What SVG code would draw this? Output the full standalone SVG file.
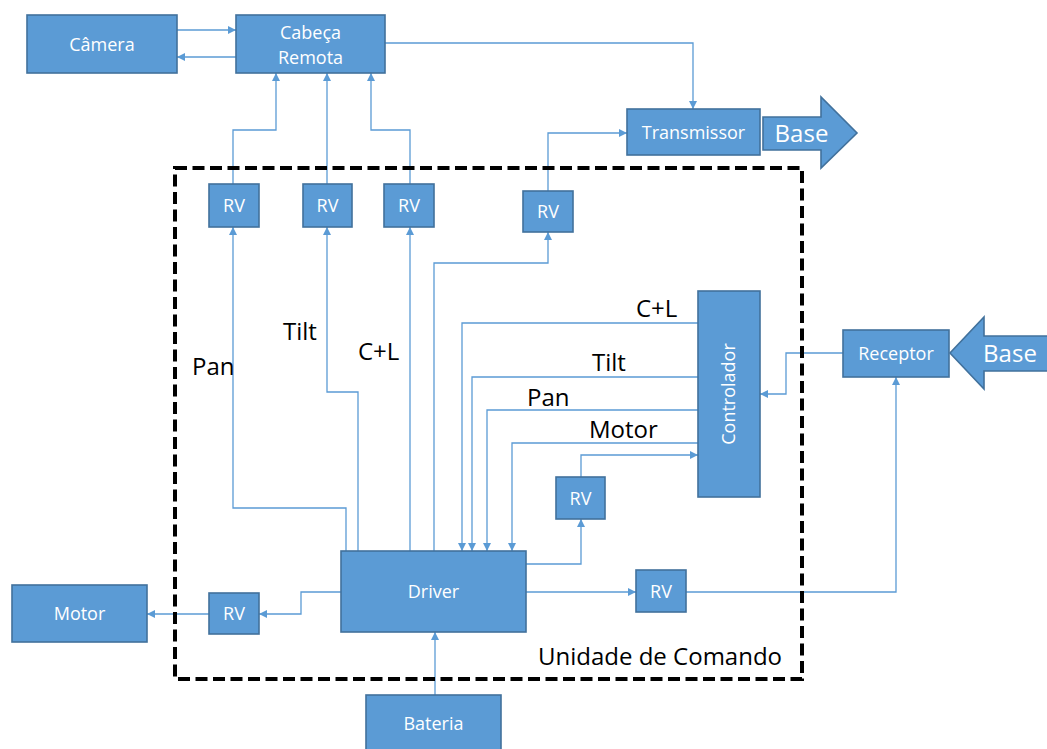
<svg xmlns="http://www.w3.org/2000/svg" width="1047" height="749" viewBox="0 0 1047 749">
  <defs>
    <marker id="arrow" markerUnits="userSpaceOnUse" markerWidth="9" markerHeight="9" refX="8" refY="4" orient="auto">
      <path d="M0,0 L8,4 L0,8 z" fill="#5B9BD5"/>
    </marker>
    <style>
      .box { fill: #5B9BD5; stroke: #41719C; stroke-width: 1.6; }
      .lbl { font-family: "Open Sans", "Liberation Sans", sans-serif; font-size: 18px; fill: #FFFFFF; text-anchor: middle; }
      .big { font-family: "Open Sans", "Liberation Sans", sans-serif; font-size: 24px; fill: #FFFFFF; text-anchor: middle; }
      .tag { font-family: "Open Sans", "Liberation Sans", sans-serif; font-size: 24px; fill: #000000; }
      .wire { fill: none; stroke: #5B9BD5; stroke-width: 1.3; marker-end: url(#arrow); }
      .frame { fill: none; stroke: #000000; stroke-width: 4; stroke-dasharray: 12 5.5; }
    </style>
  </defs>
  <rect width="1047" height="749" fill="#FFFFFF"/>

  <!-- signal and power wiring -->
  <g id="connectors">
    <path class="wire" d="M177,30 H236"/>
    <path class="wire" d="M236,57 H177"/>
    <path class="wire" d="M385,43 H693 V109"/>
    <path class="wire" d="M233,184 V130 H276 V73"/>
    <path class="wire" d="M327,184 V73"/>
    <path class="wire" d="M410,184 V130 H371 V73"/>
    <path class="wire" d="M548,191 V133 H627"/>
    <path class="wire" d="M434,551 V263 H548 V232"/>
    <path class="wire" d="M346,551 V508 H233 V227"/>
    <path class="wire" d="M358,551 V392 H327 V227"/>
    <path class="wire" d="M410,551 V227"/>
    <path class="wire" d="M698,323 H462 V551"/>
    <path class="wire" d="M698,377 H472 V551"/>
    <path class="wire" d="M698,410 H487 V551"/>
    <path class="wire" d="M698,443 H512 V551"/>
    <path class="wire" d="M526,564 H581 V519"/>
    <path class="wire" d="M581,477 V455 H698"/>
    <path class="wire" d="M526,592 H636"/>
    <path class="wire" d="M686,592 H896 V377"/>
    <path class="wire" d="M843,353 H786 V394 H760"/>
    <path class="wire" d="M341,592 H301 V614 H259"/>
    <path class="wire" d="M209,614 H147"/>
    <path class="wire" d="M435,695 V632"/>
  </g>

  <!-- command unit boundary -->
  <g id="unidade">
    <rect class="frame" x="175" y="168" width="627" height="511"/>
    <text class="tag" x="538" y="665">Unidade de Comando</text>
  </g>

  <!-- signal labels -->
  <g id="signal-labels">
    <text class="tag" x="192" y="375">Pan</text>
    <text class="tag" x="283" y="340">Tilt</text>
    <text class="tag" x="358" y="360">C+L</text>
    <text class="tag" x="636" y="317">C+L</text>
    <text class="tag" x="592" y="371">Tilt</text>
    <text class="tag" x="527" y="406">Pan</text>
    <text class="tag" x="589" y="438">Motor</text>
  </g>

  <g id="camera">
    <rect class="box" x="27" y="15" width="150" height="58"/>
    <text class="lbl" x="102" y="50.5">Câmera</text>
  </g>
  <g id="cabeca-remota">
    <rect class="box" x="236" y="15" width="149" height="58"/>
    <text class="lbl" x="310.5" y="38.5">Cabeça</text>
    <text class="lbl" x="310.5" y="64">Remota</text>
  </g>
  <g id="transmissor">
    <rect class="box" x="627" y="109" width="133" height="46"/>
    <text class="lbl" x="693.5" y="138.5">Transmissor</text>
  </g>
  <g id="base-saida">
    <path class="box" d="M763,117 H821 V97 L857,133 L821,168 V150 H763 z"/>
    <text class="big" x="801.5" y="142">Base</text>
  </g>
  <g id="rv-pan">
    <rect class="box" x="209" y="184" width="50" height="43"/>
    <text class="lbl" x="234" y="212">RV</text>
  </g>
  <g id="rv-tilt">
    <rect class="box" x="303" y="184" width="49" height="43"/>
    <text class="lbl" x="327.5" y="212">RV</text>
  </g>
  <g id="rv-cl">
    <rect class="box" x="384" y="184" width="50" height="43"/>
    <text class="lbl" x="409" y="212">RV</text>
  </g>
  <g id="rv-transmissor">
    <rect class="box" x="523" y="191" width="50" height="41"/>
    <text class="lbl" x="548" y="218">RV</text>
  </g>
  <g id="controlador">
    <rect class="box" x="698" y="291" width="62" height="206"/>
    <text class="lbl" transform="translate(729,394) rotate(-90)" x="0" y="6.4">Controlador</text>
  </g>
  <g id="receptor">
    <rect class="box" x="843" y="330" width="106" height="47"/>
    <text class="lbl" x="896" y="360">Receptor</text>
  </g>
  <g id="base-entrada">
    <path class="box" d="M1047,336 H984 V317 L950,353 L984,389 V371 H1047"/>
    <text class="big" x="1010" y="362">Base</text>
  </g>
  <g id="rv-controlador">
    <rect class="box" x="556" y="477" width="49" height="42"/>
    <text class="lbl" x="580.5" y="504.5">RV</text>
  </g>
  <g id="driver">
    <rect class="box" x="341" y="551" width="185" height="81"/>
    <text class="lbl" x="433.5" y="598">Driver</text>
  </g>
  <g id="rv-receptor">
    <rect class="box" x="636" y="570" width="50" height="42"/>
    <text class="lbl" x="661" y="597.5">RV</text>
  </g>
  <g id="rv-motor">
    <rect class="box" x="209" y="593" width="50" height="41"/>
    <text class="lbl" x="234" y="620">RV</text>
  </g>
  <g id="motor">
    <rect class="box" x="12" y="585" width="135" height="57"/>
    <text class="lbl" x="79.5" y="620">Motor</text>
  </g>
  <g id="bateria">
    <rect class="box" x="366" y="695" width="135" height="60"/>
    <text class="lbl" x="433.5" y="729.5">Bateria</text>
  </g>
</svg>
